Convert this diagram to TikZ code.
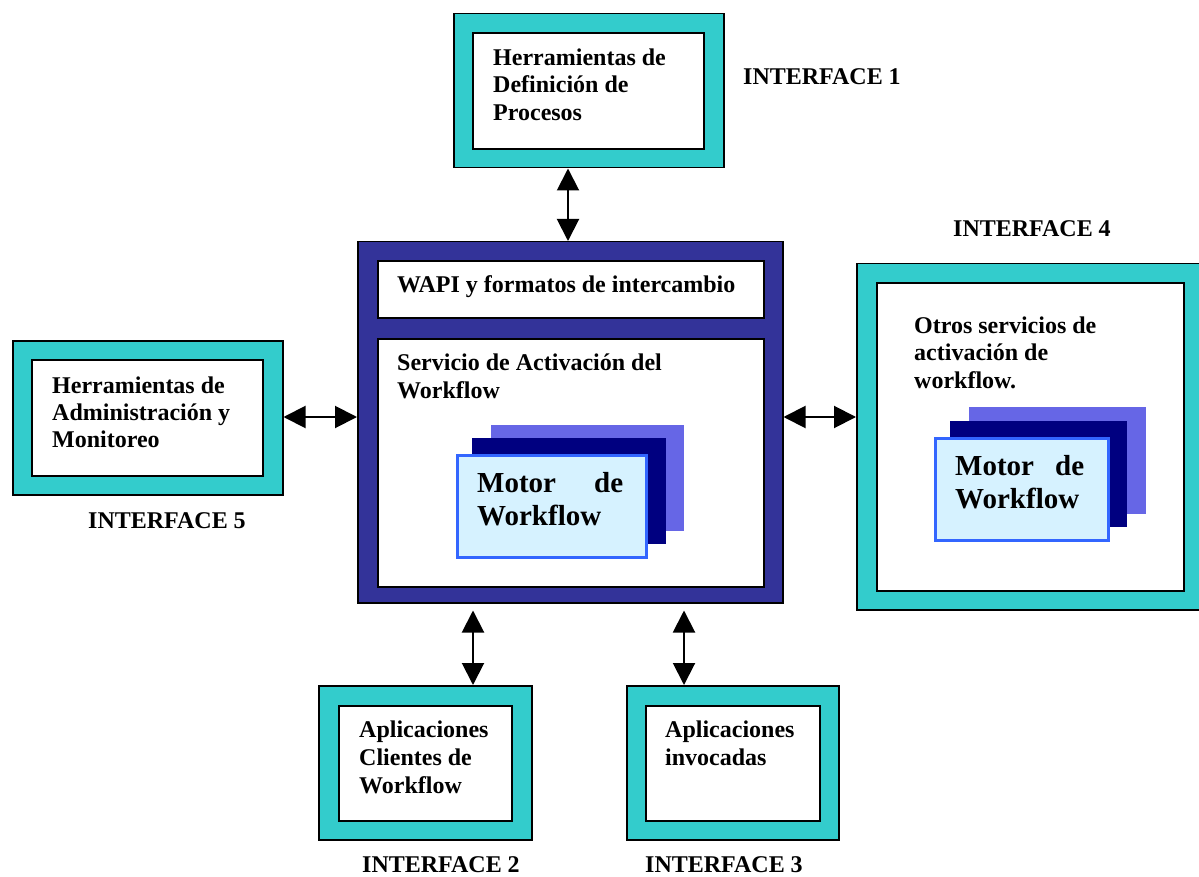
\documentclass[tikz,border=0pt]{standalone}
\usepackage{fontspec}
\setmainfont{Liberation Serif}
\usetikzlibrary{arrows.meta,calc}

\definecolor{frameteal}{RGB}{51,204,204}
\definecolor{coreblue}{RGB}{51,51,153}
\definecolor{stacknavy}{RGB}{0,0,128}
\definecolor{stackviolet}{RGB}{102,102,230}
\definecolor{enginefill}{RGB}{214,242,255}
\definecolor{engineedge}{RGB}{51,102,255}

\newcommand{\firstline}[1]{\rule{0pt}{#1}}

\begin{document}
\begin{tikzpicture}[x=1pt,y=-1pt,
  frame/.style={draw=black, line width=1.5pt, fill=frameteal, inner sep=0pt,
    anchor=north west, minimum width=#1},
  panel/.style={draw=black, line width=1.8pt, fill=white, inner sep=0pt,
    anchor=north west, minimum width=#1},
  sheet/.style={draw=none, fill=#1, inner sep=0pt, anchor=north west},
  engine/.style={draw=engineedge, line width=3pt, fill=enginefill, inner sep=0pt,
    anchor=north west},
  caption/.style={inner sep=0pt, anchor=base west, font=\fontsize{24}{28}\selectfont\bfseries},
  body/.style={inner sep=0pt, anchor=north west, align=left,
    font=\fontsize{24}{#1}\selectfont\bfseries},
  bigbody/.style={inner sep=0pt, anchor=north west, align=left, text width=#1,
    font=\fontsize{29}{33}\selectfont\bfseries},
  link/.style={{Triangle[length=22pt,width=22pt]}-{Triangle[length=22pt,width=22pt]},
    line width=2pt, draw=black}
]
\useasboundingbox (0,0) rectangle (1199,877);
\clip (0,0) rectangle (1199,877);

% process definition tools
\node[frame=270pt, minimum height=154pt] (deftool) at (453,13) {};
\node[panel=231pt, minimum height=116pt] (deftool-in) at (472,32) {};
\node[body=27.5] (deftool-text) at (493,47)
  {\firstline{18pt}Herramientas de\\Definición de\\Procesos};
\node[caption] (if1) at (743,85) {INTERFACE 1};

% enactment service core
\node[draw=black, line width=1.5pt, fill=coreblue, inner sep=0pt, anchor=north west,
  minimum width=425pt, minimum height=361pt] (main) at (357,241) {};
\node[panel=386pt, minimum height=57pt] (wapi) at (377,260) {};
\node[caption] (wapi-text) at (397,293) {WAPI y formatos de intercambio};
\node[panel=386pt, minimum height=248pt] (serv) at (377,338) {};
\node[body=28] (serv-text) at (397,352)
  {\firstline{18pt}Servicio de Activación del\\Workflow};
\node[sheet=stackviolet, minimum width=193pt, minimum height=106pt] (eng1-back) at (491,425) {};
\node[sheet=stacknavy, minimum width=194pt, minimum height=106pt] (eng1-mid) at (472,438) {};
\node[engine, minimum width=189pt, minimum height=102pt] (eng1) at (455.5,453.5) {};
\node[bigbody=146pt] (eng1-text) at (477,470)
  {\firstline{22pt}Motor\hfill de\\Workflow};

% other enactment services
\node[caption] (if4) at (953,237) {INTERFACE 4};
\node[frame=347pt, minimum height=346pt] (other) at (856,263) {};
\node[panel=307pt, minimum height=308pt] (other-in) at (876,282) {};
\node[body=27.5] (other-text) at (914,315)
  {\firstline{18pt}Otros servicios de\\activación de\\workflow.};
\node[sheet=stackviolet, minimum width=177pt, minimum height=107pt] (eng2-back) at (969,407) {};
\node[sheet=stacknavy, minimum width=177pt, minimum height=106pt] (eng2-mid) at (950,421) {};
\node[engine, minimum width=173pt, minimum height=102pt] (eng2) at (933.5,436.5) {};
\node[bigbody=129pt] (eng2-text) at (955,453)
  {\firstline{22pt}Motor\hfill de\\Workflow};

% administration and monitoring tools
\node[frame=270pt, minimum height=154pt] (admin) at (12,340) {};
\node[panel=231pt, minimum height=116pt] (admin-in) at (31,359) {};
\node[body=27] (admin-text) at (52,375)
  {\firstline{18pt}Herramientas de\\Administración y\\Monitoreo};
\node[caption] (if5) at (88,528) {INTERFACE 5};

% client applications
\node[frame=213pt, minimum height=154pt] (client) at (318,685) {};
\node[panel=173pt, minimum height=115pt] (client-in) at (338,705) {};
\node[body=28] (client-text) at (359,719)
  {\firstline{18pt}Aplicaciones\\Clientes de\\Workflow};
\node[caption] (if2) at (362,872) {INTERFACE 2};

% invoked applications
\node[frame=212pt, minimum height=154pt] (invoked) at (626,685) {};
\node[panel=174pt, minimum height=115pt] (invoked-in) at (645,705) {};
\node[body=28] (invoked-text) at (665,719)
  {\firstline{18pt}Aplicaciones\\invocadas};
\node[caption] (if3) at (645,872) {INTERFACE 3};

% interfaces
\coordinate (col1) at (568,0);
\coordinate (col2) at (473,0);
\coordinate (col3) at (684,0);
\coordinate (row) at (0,417);
\draw[link] (col1 |- deftool.south) -- (col1 |- main.north);
\draw[link] (admin.east |- row) -- (main.west |- row);
\draw[link] (main.east |- row) -- (other.west |- row);
\draw[link, shorten <=7pt] (col2 |- main.south) -- (col2 |- client.north);
\draw[link, shorten <=7pt] (col3 |- main.south) -- (col3 |- invoked.north);
\end{tikzpicture}
\end{document}
